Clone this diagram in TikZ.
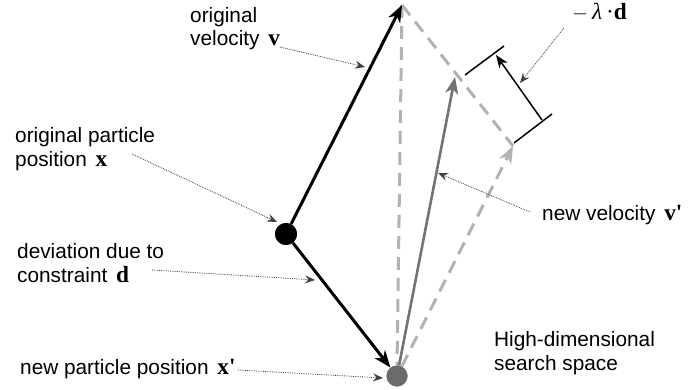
\documentclass[tikz,border=0pt]{standalone}
\usepackage{fontspec}
\setmainfont{Liberation Sans}
\newfontfamily\serifbf{Liberation Serif}[Scale=1.12]
\usetikzlibrary{arrows.meta}
\newcommand{\bvec}[1]{\hspace{3pt}{\serifbf\bfseries #1}}
\begin{document}
\begin{tikzpicture}[x=1pt,y=-1pt,
  lbl/.style={font=\fontsize{20.8}{23.5}\selectfont, align=left, anchor=base west, inner sep=0pt},
  lead/.style={densely dotted, line width=0.8pt, black!75, -{Stealth[length=10pt,width=8pt,inset=3.5pt]}},
  vec/.style={line width=3pt, -{Stealth[length=17pt,width=13pt,inset=5pt]}},
  ghost/.style={line width=3pt, dash pattern=on 13pt off 8pt, color=black!30},
  dimln/.style={line width=1.5pt},
]
\useasboundingbox (0,0) rectangle (695,390);
% key points
\coordinate (V) at (402,5);
\coordinate (P) at (513,146);
\coordinate (VN) at (455,77);
\node[circle, fill=black, minimum size=22pt, inner sep=0pt] (dx) at (286,234) {};
\node[circle, fill=black!58, minimum size=21pt, inner sep=0pt] (dxn) at (397,376) {};
% ghost parallelogram
\draw[ghost] (V) -- (dxn.north);
\draw[ghost] (V) -- (P);
\draw[ghost, -{Stealth[length=17pt,width=13pt,inset=5pt]}] (dxn) -- (P);
% vectors
\draw[line width=2.6pt, color=black!55, -{Stealth[length=17pt,width=13pt,inset=5pt]}] (dxn) -- (VN);
\draw[vec] (dx) -- (V);
\draw[vec] (dx) -- (dxn);
\node[circle, fill=black, minimum size=22pt, inner sep=0pt] at (dx) {};
\node[circle, fill=black!58, minimum size=21pt, inner sep=0pt] at (dxn) {};
% dimension marker for -lambda d
\coordinate (t1a) at (465,75);
\coordinate (t1b) at (504,46);
\coordinate (t2a) at (514,143);
\coordinate (t2b) at (552,114);
\coordinate (la) at (542,120);
\coordinate (lb) at (496,55);
\draw[dimln] (t1a) -- (t1b);
\draw[dimln] (t2a) -- (t2b);
\draw[dimln, -{Stealth[length=13pt,width=10pt,inset=4pt]}] (la) -- (lb);
% labels (base anchor = last line)
\node[lbl] (lv) at (190,46) {original\\velocity \bvec{v}};
\node[lbl] (lx) at (15,166) {original particle\\position \bvec{x}};
\node[lbl] (ld) at (17,282) {deviation due to\\constraint \bvec{d}};
\node[lbl] (lxn) at (20,374) {new particle position \bvec{x\textquotesingle}};
\node[lbl] (lvn) at (542,220) {new velocity \bvec{v\textquotesingle}};
\node[lbl] (ls) at (494,370) {High-dimensional\\search space};
\node[lbl] (ll) at (572,20) {{\serifbf $-$\,\itshape λ\upshape\,·\bfseries d}};
% leaders
\coordinate (sv) at (280,47);
\coordinate (ev) at (365,67);
\coordinate (sx) at (132,154);
\coordinate (ex) at (277,222);
\coordinate (sd) at (152,270);
\coordinate (ed) at (315,280);
\coordinate (sxn) at (238,370);
\coordinate (exn) at (383,378);
\coordinate (svn) at (530,212);
\coordinate (evn) at (438,173);
\coordinate (sl) at (564,28);
\coordinate (el) at (520,83);
\draw[lead] (sv) -- (ev);
\draw[lead] (sx) -- (ex);
\draw[lead] (sd) -- (ed);
\draw[lead] (sxn) -- (exn);
\draw[lead] (svn) -- (evn);
\draw[lead] (sl) -- (el);
\end{tikzpicture}
\end{document}
